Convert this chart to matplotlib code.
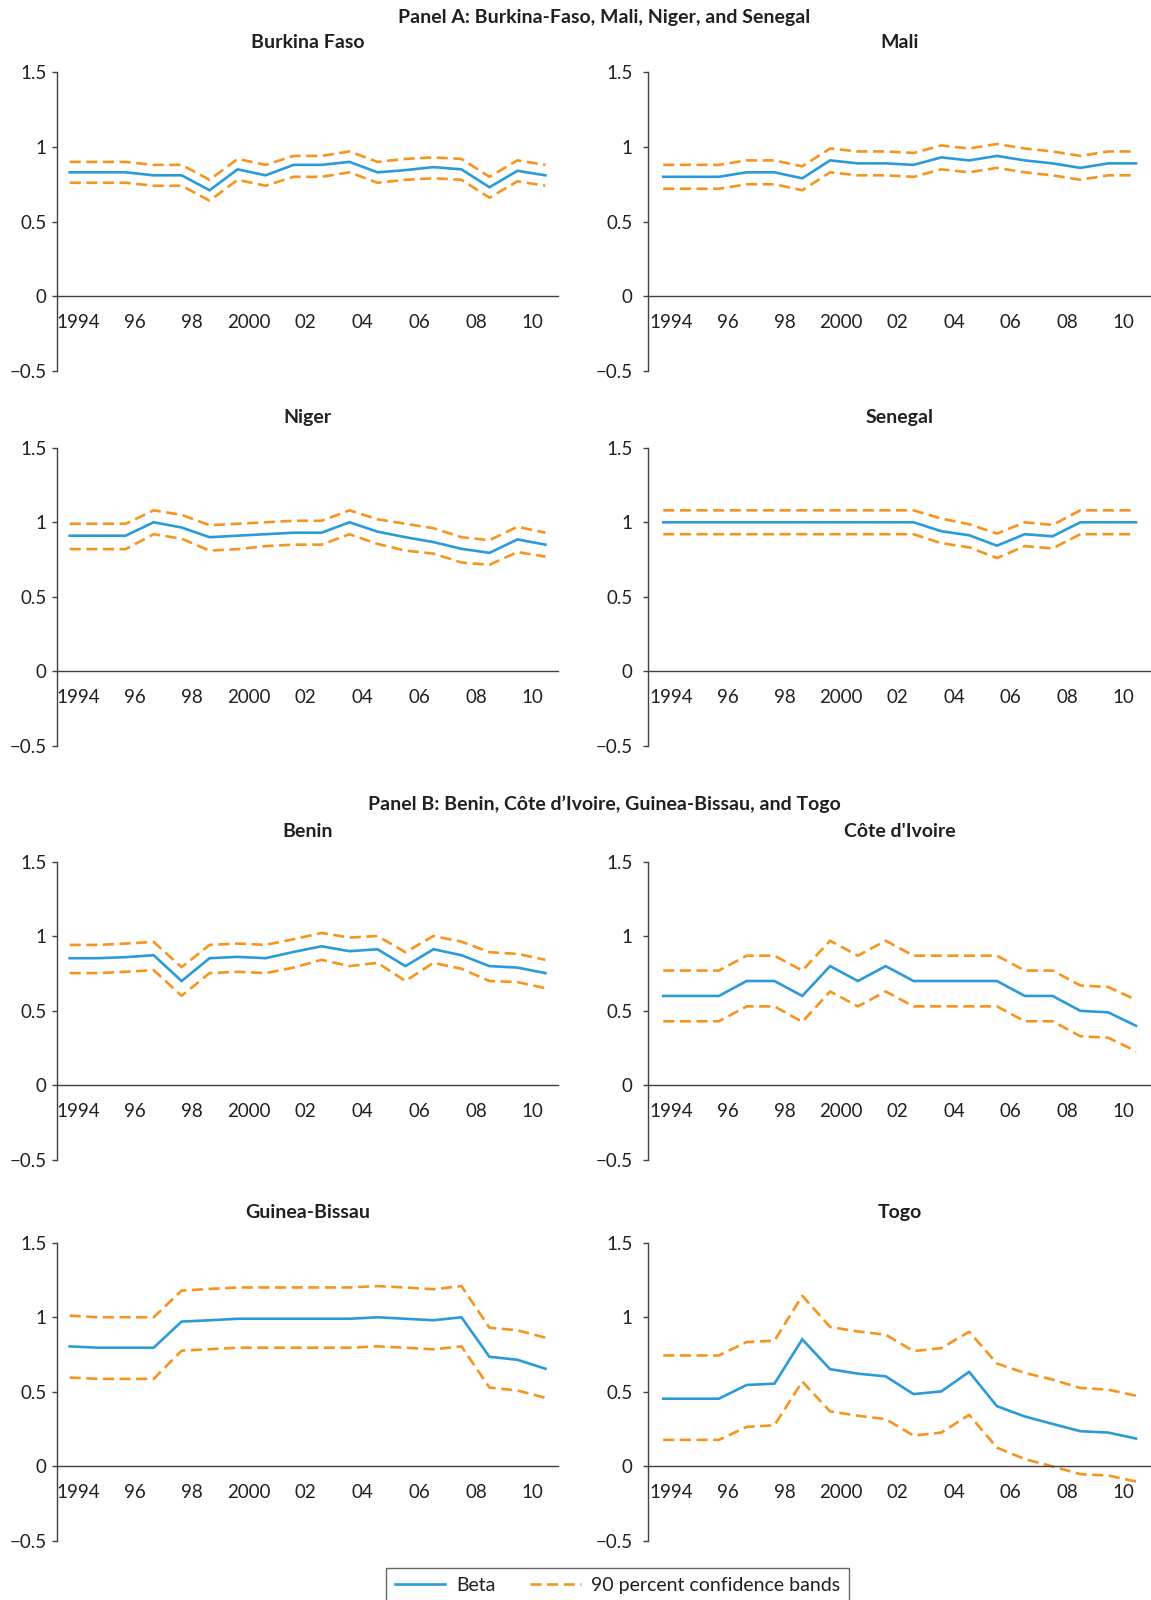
import matplotlib
matplotlib.use("Agg")
import matplotlib.pyplot as plt
import numpy as np

plt.rcParams['font.family'] = ['Lato', 'DejaVu Sans']

# 18 yearly observations, 1994-2011
years = list(range(1994, 2012))
tick_labels = ['1994', '96', '98', '2000', '02', '04', '06', '08', '10']

# Panel A
burkina_beta = [0.83, 0.83, 0.83, 0.81, 0.81, 0.71, 0.85, 0.81, 0.88, 0.88, 0.90, 0.83, 0.845, 0.865, 0.85, 0.73, 0.84, 0.81]
burkina_hi = [0.90, 0.90, 0.90, 0.88, 0.88, 0.78, 0.92, 0.88, 0.94, 0.94, 0.97, 0.90, 0.92, 0.93, 0.92, 0.80, 0.91, 0.88]
burkina_lo = [0.76, 0.76, 0.76, 0.74, 0.74, 0.64, 0.78, 0.74, 0.80, 0.80, 0.83, 0.76, 0.78, 0.79, 0.78, 0.66, 0.77, 0.74]

mali_beta = [0.80, 0.80, 0.80, 0.83, 0.83, 0.79, 0.91, 0.89, 0.89, 0.88, 0.93, 0.91, 0.94, 0.91, 0.89, 0.86, 0.89, 0.89]
mali_hi = [0.88, 0.88, 0.88, 0.91, 0.91, 0.87, 0.99, 0.97, 0.97, 0.96, 1.01, 0.99, 1.02, 0.99, 0.97, 0.94, 0.97, 0.97]
mali_lo = [0.72, 0.72, 0.72, 0.75, 0.75, 0.71, 0.83, 0.81, 0.81, 0.80, 0.85, 0.83, 0.86, 0.83, 0.81, 0.78, 0.81, 0.81]

niger_beta = [0.91, 0.91, 0.91, 1.00, 0.965, 0.90, 0.91, 0.92, 0.93, 0.93, 1.00, 0.937, 0.90, 0.867, 0.822, 0.795, 0.885, 0.85]
niger_hi = [0.99, 0.99, 0.99, 1.08, 1.05, 0.98, 0.99, 1.00, 1.01, 1.01, 1.08, 1.02, 0.99, 0.96, 0.90, 0.88, 0.97, 0.93]
niger_lo = [0.82, 0.82, 0.82, 0.92, 0.89, 0.81, 0.82, 0.84, 0.85, 0.85, 0.92, 0.855, 0.81, 0.79, 0.73, 0.715, 0.80, 0.77]

senegal_beta = [1.0, 1.0, 1.0, 1.0, 1.0, 1.0, 1.0, 1.0, 1.0, 1.0, 0.94, 0.913, 0.843, 0.92, 0.906, 1.0, 1.0, 1.0]
senegal_hi = [1.08, 1.08, 1.08, 1.08, 1.08, 1.08, 1.08, 1.08, 1.08, 1.08, 1.025, 0.987, 0.924, 1.0, 0.982, 1.08, 1.08, 1.08]
senegal_lo = [0.92, 0.92, 0.92, 0.92, 0.92, 0.92, 0.92, 0.92, 0.92, 0.92, 0.86, 0.832, 0.76, 0.84, 0.825, 0.92, 0.92, 0.92]

# Panel B
benin_beta = [0.853, 0.853, 0.86, 0.873, 0.70, 0.853, 0.862, 0.853, 0.895, 0.933, 0.90, 0.913, 0.80, 0.913, 0.873, 0.80, 0.79, 0.753]
benin_hi = [0.942, 0.942, 0.951, 0.962, 0.793, 0.942, 0.951, 0.942, 0.98, 1.022, 0.991, 1.002, 0.893, 1.002, 0.964, 0.893, 0.882, 0.842]
benin_lo = [0.753, 0.753, 0.762, 0.773, 0.601, 0.753, 0.762, 0.753, 0.79, 0.842, 0.80, 0.822, 0.70, 0.822, 0.782, 0.70, 0.693, 0.652]

civ_beta = [0.60, 0.60, 0.60, 0.70, 0.70, 0.60, 0.80, 0.70, 0.80, 0.70, 0.70, 0.70, 0.70, 0.60, 0.60, 0.50, 0.49, 0.40]
civ_hi = [0.77, 0.77, 0.77, 0.87, 0.87, 0.77, 0.97, 0.87, 0.97, 0.87, 0.87, 0.87, 0.87, 0.77, 0.77, 0.67, 0.66, 0.574]
civ_lo = [0.43, 0.43, 0.43, 0.53, 0.53, 0.426, 0.63, 0.53, 0.63, 0.53, 0.53, 0.53, 0.53, 0.43, 0.43, 0.33, 0.32, 0.23]

gb_beta = [0.805, 0.796, 0.796, 0.796, 0.971, 0.98, 0.99, 0.99, 0.99, 0.99, 0.99, 1.0, 0.99, 0.98, 1.0, 0.735, 0.715, 0.655]
gb_hi = [1.011, 1.0, 1.0, 1.0, 1.179, 1.19, 1.2, 1.2, 1.2, 1.2, 1.2, 1.209, 1.2, 1.188, 1.209, 0.93, 0.913, 0.863]
gb_lo = [0.596, 0.587, 0.587, 0.587, 0.776, 0.786, 0.796, 0.796, 0.796, 0.796, 0.796, 0.805, 0.796, 0.785, 0.805, 0.529, 0.509, 0.46]

togo_beta = [0.454, 0.454, 0.454, 0.546, 0.555, 0.852, 0.652, 0.622, 0.604, 0.485, 0.503, 0.634, 0.404, 0.335, 0.285, 0.236, 0.227, 0.187]
togo_hi = [0.744, 0.744, 0.744, 0.834, 0.843, 1.144, 0.935, 0.905, 0.883, 0.773, 0.793, 0.903, 0.69, 0.627, 0.582, 0.526, 0.515, 0.474]
togo_lo = [0.178, 0.178, 0.178, 0.265, 0.276, 0.569, 0.369, 0.34, 0.317, 0.207, 0.227, 0.346, 0.126, 0.049, 0.0, -0.052, -0.061, -0.101]

panels = [
    ('Burkina Faso', burkina_beta, burkina_hi, burkina_lo),
    ('Mali', mali_beta, mali_hi, mali_lo),
    ('Niger', niger_beta, niger_hi, niger_lo),
    ('Senegal', senegal_beta, senegal_hi, senegal_lo),
    ('Benin', benin_beta, benin_hi, benin_lo),
    ("C\u00f4te d'Ivoire", civ_beta, civ_hi, civ_lo),
    ('Guinea-Bissau', gb_beta, gb_hi, gb_lo),
    ('Togo', togo_beta, togo_hi, togo_lo),
]

W, H = 1151, 1600
BLUE = '#2A9BD8'
ORANGE = '#F7941E'
AXC = '#404040'
TXT = '#231F20'

fig = plt.figure(figsize=(W / 100, H / 100), dpi=100)

# pixel layout: (left, right) per column, top per row
cols = [(56.8, 558.0, -0.46, 17.45, 4), (648.5, 1151.0, -0.53, 17.54, 8)]
row_tops = [72.4, 447.7, 861.7, 1242.7]
ax_h = 298.3

tick_pos = np.linspace(years[0] + 0.3, years[0] + 16.55, len(tick_labels))

for k, (name, beta, hi, lo) in enumerate(panels):
    r, c = divmod(k, 2)
    x0, x1, xl, xr, ypad = cols[c]
    top = row_tops[r]
    ax = fig.add_axes([x0 / W, 1 - (top + ax_h) / H, (x1 - x0) / W, ax_h / H])
    ax.plot(years, beta, color=BLUE, lw=1.9, solid_joinstyle='miter', label='Beta')
    ax.plot(years, hi, color=ORANGE, lw=1.9, dashes=(4.2, 2.1), label='90 percent confidence bands')
    ax.plot(years, lo, color=ORANGE, lw=1.9, dashes=(4.2, 2.1))
    ax.set_xlim(years[0] + xl, years[0] + xr)
    ax.set_ylim(-0.5, 1.5)
    ax.set_yticks([-0.5, 0, 0.5, 1, 1.5])
    ax.set_yticklabels(['\u22120.5', '0', '0.5', '1', '1.5'])
    ax.set_xticks(tick_pos)
    ax.set_xticklabels(tick_labels)
    for s in ['top', 'right']:
        ax.spines[s].set_visible(False)
    ax.spines['bottom'].set_position(('data', 0))
    for s in ['left', 'bottom']:
        ax.spines[s].set_color(AXC)
        ax.spines[s].set_linewidth(1.0)
    ax.tick_params(axis='x', length=0, pad=13, labelsize=13.5, labelcolor=TXT)
    ax.tick_params(axis='y', length=3.5, width=1.0, color=AXC, pad=ypad,
                   labelsize=13.5, labelcolor=TXT)
    ax.patch.set_visible(False)
    cx = (x0 + x1) / 2
    fig.text(cx / W, 1 - (top - 30) / H, name, ha='center', va='center',
             fontsize=14, fontweight='bold', color=TXT)
    if k == 0:
        handles, labels = ax.get_legend_handles_labels()

fig.text(604 / W, 1 - 17 / H, 'Panel A: Burkina-Faso, Mali, Niger, and Senegal',
         ha='center', va='center', fontsize=14, fontweight='bold', color=TXT)
fig.text(604 / W, 1 - 804 / H, 'Panel B: Benin, C\u00f4te d\u2019Ivoire, Guinea-Bissau, and Togo',
         ha='center', va='center', fontsize=14, fontweight='bold', color=TXT)

leg = fig.legend(handles, labels, loc='upper center', bbox_to_anchor=(617.5 / W, 1 - 1568 / H),
                 ncol=2, frameon=True, fancybox=False, edgecolor=AXC, fontsize=14,
                 handlelength=2.6, handletextpad=0.55, columnspacing=1.8, borderpad=0.45,
                 borderaxespad=0)
leg.get_frame().set_linewidth(1.0)
for t in leg.get_texts():
    t.set_color(TXT)

fig.savefig('out.png', dpi=100)
